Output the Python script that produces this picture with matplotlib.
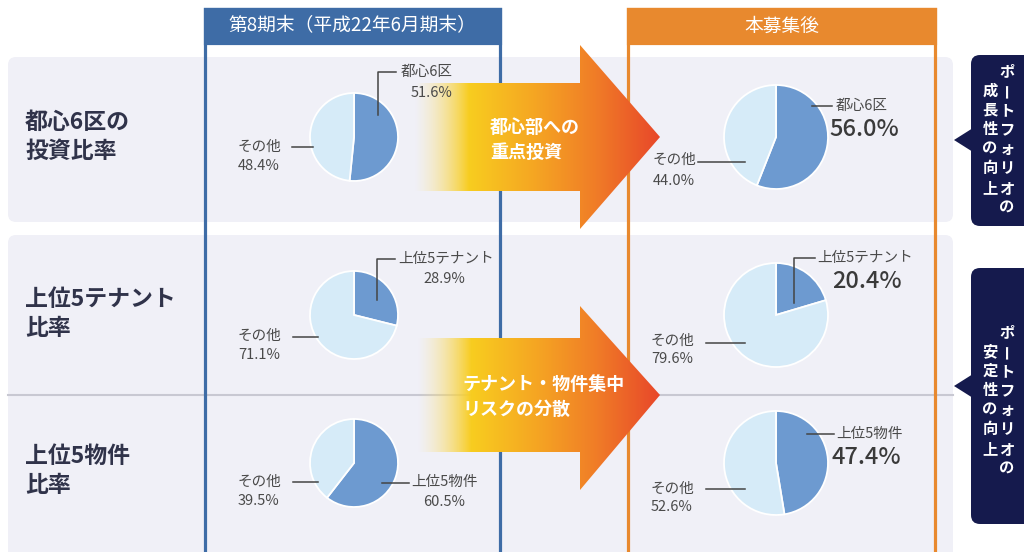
import matplotlib
matplotlib.use('Agg')
import matplotlib.pyplot as plt
from matplotlib.patches import FancyBboxPatch, Rectangle, Polygon
from matplotlib.colors import to_rgb
import numpy as np

plt.rcParams['font.family'] = ['Noto Sans CJK JP', 'DejaVu Sans']

# ---------------- data ----------------
row_titles = ["都心6区の\n投資比率", "上位5テナント\n比率", "上位5物件\n比率"]
focus_names = ["都心6区", "上位5テナント", "上位5物件"]
other_name = "その他"
before_pct = [51.6, 28.9, 60.5]
after_pct = [56.0, 20.4, 47.4]
col_titles = ["第8期末（平成22年6月期末）", "本募集後"]
arrow_texts = ["都心部への\n重点投資", "テナント・物件集中\nリスクの分散"]
callout_texts = [("ポートフォリオの", "成長性の向上"), ("ポートフォリオの", "安定性の向上")]

# ---------------- style ----------------
W, H = 1024, 552
BG = '#f0f0f7'
BLUE = '#3e6ca6'
ORANGE = '#e8892e'
NAVY = '#151a4d'
DARK = '#6d9ad0'
LIGHT = '#d6ebf8'
TXT = '#4a4a4a'


def Y(y):
    return H - y


fig = plt.figure(figsize=(W / 100, H / 100), dpi=100)
ax = fig.add_axes([0, 0, 1, 1])
ax.set_xlim(0, W)
ax.set_ylim(0, H)
ax.axis('off')

# row backgrounds
ax.add_patch(FancyBboxPatch((8, Y(222)), 945, 165, boxstyle="round,pad=0,rounding_size=8",
                            fc=BG, ec='none', zorder=0))
ax.add_patch(FancyBboxPatch((8, Y(580)), 945, 345, boxstyle="round,pad=0,rounding_size=8",
                            fc=BG, ec='none', zorder=0))
ax.plot([8, 953], [Y(395), Y(395)], color='#c8c8d2', lw=1.5, zorder=1)

# column boxes
for (x0, x1, col, title) in [(205, 500, BLUE, col_titles[0]), (628, 935, ORANGE, col_titles[1])]:
    ax.add_patch(Rectangle((x0, Y(600)), x1 - x0, 600 - 9, fc='none', ec=col, lw=2.3, zorder=2))
    ax.add_patch(Rectangle((x0, Y(43)), x1 - x0, 34, fc=col, ec=col, lw=2.3, zorder=2))
    ax.text((x0 + x1) / 2, Y(26), title, color='white', fontsize=13.5, ha='center', va='center', zorder=3)

# gradient arrows
stops_x = [0.0, 0.22, 0.5, 0.74, 1.0]
stops_c = ['#fbe7a0', '#f8cd1f', '#f5a423', '#f07c27', '#e8472a']
stops_a = [0.0, 1.0, 1.0, 1.0, 1.0]


def gradient_arrow(x0, xb, xt, yc, bh, head_top, head_bot):
    verts = [(x0, Y(yc - bh)), (xb, Y(yc - bh)), (xb, Y(head_top)), (xt, Y(yc)),
             (xb, Y(head_bot)), (xb, Y(yc + bh)), (x0, Y(yc + bh))]
    n = 400
    t = np.linspace(0, 1, n)
    rgb = np.array([to_rgb(c) for c in stops_c])
    img = np.zeros((1, n, 4))
    for k in range(3):
        img[0, :, k] = np.interp(t, stops_x, rgb[:, k])
    img[0, :, 3] = np.interp(t, stops_x, stops_a)
    im = ax.imshow(img, extent=(x0, xt, Y(head_bot), Y(head_top)), aspect='auto',
                   interpolation='bilinear', zorder=4)
    poly = Polygon(verts, closed=True, fc='none', ec='none')
    ax.add_patch(poly)
    im.set_clip_path(poly)


gradient_arrow(415, 580, 660, 137, 54, 45, 229)
gradient_arrow(418, 580, 660, 395, 57, 306, 490)
ax.text(490, Y(140), arrow_texts[0], color='white', fontsize=13, fontweight='bold',
        ha='left', va='center', linespacing=1.35, zorder=6)
ax.text(462, Y(397), arrow_texts[1], color='white', fontsize=13, fontweight='bold',
        ha='left', va='center', linespacing=1.35, zorder=6)

# row titles
for title, yc in zip(row_titles, [137, 314, 471]):
    ax.text(25, Y(yc), title, color='#30334a', fontsize=16.5, fontweight='bold',
            ha='left', va='center', linespacing=1.3, zorder=3)

# pies
left_cx, right_cx = 354, 776
row_cy = [137, 315, 463]
wp = dict(edgecolor='white', linewidth=1.3)
for i in range(3):
    ax.pie([before_pct[i], 100 - before_pct[i]], colors=[DARK, LIGHT], startangle=90,
           counterclock=False, center=(left_cx, Y(row_cy[i])), radius=44, wedgeprops=wp)
    ax.pie([after_pct[i], 100 - after_pct[i]], colors=[DARK, LIGHT], startangle=90,
           counterclock=False, center=(right_cx, Y(row_cy[i])), radius=52, wedgeprops=wp)

ax.set_xlim(0, W)
ax.set_ylim(0, H)
ax.set_aspect('auto')

SMALL = 10.5
BIG = 17


def line(pts):
    ax.plot([p[0] for p in pts], [Y(p[1]) for p in pts], color='#444444', lw=1.1, zorder=5)


def small(x, y, s, ha='left'):
    ax.text(x, Y(y), s, fontsize=SMALL, color=TXT, ha=ha, va='center', zorder=5)


def big(x, y, s):
    ax.text(x, Y(y), s, fontsize=BIG, color='#3a3a3a', fontweight='medium',
            ha='left', va='center', zorder=5)


def fmt(v):
    return f"{v:.1f}%"


# row 1 left
line([(378, 115), (378, 72), (396, 72)])
small(401, 72, focus_names[0])
small(432, 93, fmt(before_pct[0]), ha='center')
line([(292, 147), (313, 147)])
small(238, 147, other_name)
small(238, 166, fmt(100 - before_pct[0]))
# row 1 right
line([(812, 106), (832, 106)])
small(836, 106, focus_names[0])
big(829, 130, fmt(after_pct[0]))
line([(698, 162), (745, 162)])
small(653, 160, other_name)
small(653, 181, fmt(100 - after_pct[0]))

# row 2 left
line([(377, 300), (377, 259), (395, 259)])
small(398, 259, focus_names[1])
small(444, 279, fmt(before_pct[1]), ha='center')
line([(293, 337), (318, 337)])
small(238, 336, other_name)
small(238, 355, fmt(100 - before_pct[1]))
# row 2 right
line([(794, 303), (794, 258), (815, 258)])
small(817, 258, focus_names[1])
big(832, 282, fmt(after_pct[1]))
line([(706, 343), (745, 343)])
small(651, 341, other_name)
small(651, 359, fmt(100 - after_pct[1]))

# row 3 left
line([(293, 482), (318, 482)])
small(238, 482, other_name)
small(238, 501, fmt(100 - before_pct[2]))
line([(382, 483), (409, 483)])
small(411, 482, focus_names[2])
small(444, 502, fmt(before_pct[2]), ha='center')
# row 3 right
line([(807, 434), (834, 434)])
small(836, 434, focus_names[2])
big(832, 457, fmt(after_pct[2]))
line([(706, 489), (745, 489)])
small(651, 489, other_name)
small(651, 507, fmt(100 - after_pct[2]))

# callouts
for (top, bot, yc, ytri), (col_r, col_l) in zip([(55, 226, 139, 140), (268, 524, 400, 386)], callout_texts):
    ax.add_patch(FancyBboxPatch((971, Y(bot)), 70, bot - top, boxstyle="round,pad=0,rounding_size=9",
                                fc=NAVY, ec='none', zorder=3))
    ax.add_patch(Polygon([(954, Y(ytri)), (973, Y(ytri - 12)), (973, Y(ytri + 12))], closed=True,
                         fc=NAVY, ec='none', zorder=3))
    step = 19.5
    for xcol, s in [(1007, col_r), (990, col_l)]:
        n = len(s)
        for k, ch in enumerate(s):
            yy = yc + (k - (n - 1) / 2) * step
            rot = 90 if ch == 'ー' else 0
            ax.text(xcol, Y(yy), ch, color='white', fontsize=11, fontweight='bold',
                    ha='center', va='center', rotation=rot, zorder=4)

fig.savefig('out.png', dpi=100, facecolor='white')
